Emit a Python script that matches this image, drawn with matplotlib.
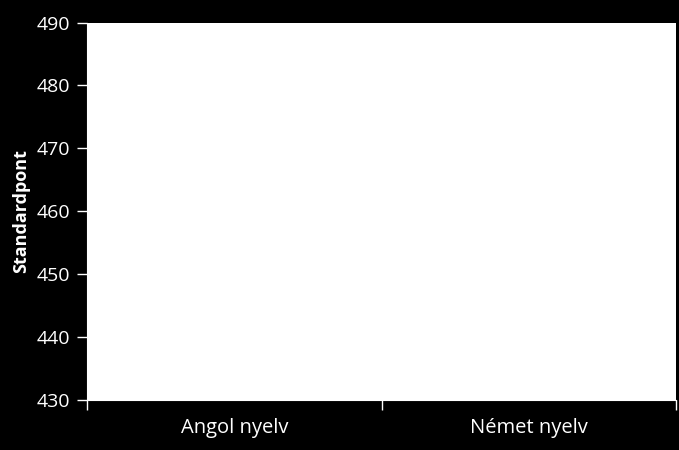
import matplotlib
matplotlib.use('Agg')
import matplotlib.pyplot as plt
import numpy as np

# Chart data
categories = ['Angol nyelv', 'Német nyelv']
values = [429, 429]          # bars lie below the visible range
y_ticks = [430, 440, 450, 460, 470, 480, 490]

plt.rcParams['font.family'] = ['Open Sans', 'DejaVu Sans']

# Create figure
fig = plt.figure(figsize=(6.79, 4.5), dpi=100, facecolor='black')
ax = fig.add_axes([0.128, 0.111, 0.868, 0.839])
ax.set_facecolor('white')

# Plot bars
x = np.arange(len(categories))
ax.bar(x, values, width=0.58, color='white', edgecolor='white', zorder=2)

# Axes limits and ticks
ax.set_xlim(-0.5, len(categories) - 0.5)
ax.set_ylim(430, 490)
ax.set_yticks(y_ticks)
ax.set_yticklabels([str(v) for v in y_ticks])
ax.set_xticks(x)
ax.set_xticklabels(categories)
ax.set_xticks([-0.5, 0.5, 1.5], minor=True)
ax.tick_params(axis='x', which='major', length=0, pad=13,
               labelsize=14.5, labelcolor='white')
ax.tick_params(axis='x', which='minor', length=7, width=1, color='white',
               direction='out')
ax.tick_params(axis='y', length=7, width=1, color='white', direction='out',
               labelsize=14, labelcolor='white', pad=5)

for side in ['left', 'bottom']:
    ax.spines[side].set_color('white')
for side in ['top', 'right']:
    ax.spines[side].set_visible(False)

# Labels
ax.set_ylabel('Standardpont', color='white', fontsize=13, fontweight='bold',
              labelpad=5)

# Save
fig.savefig('out.png', dpi=100, facecolor='black')
plt.close(fig)
